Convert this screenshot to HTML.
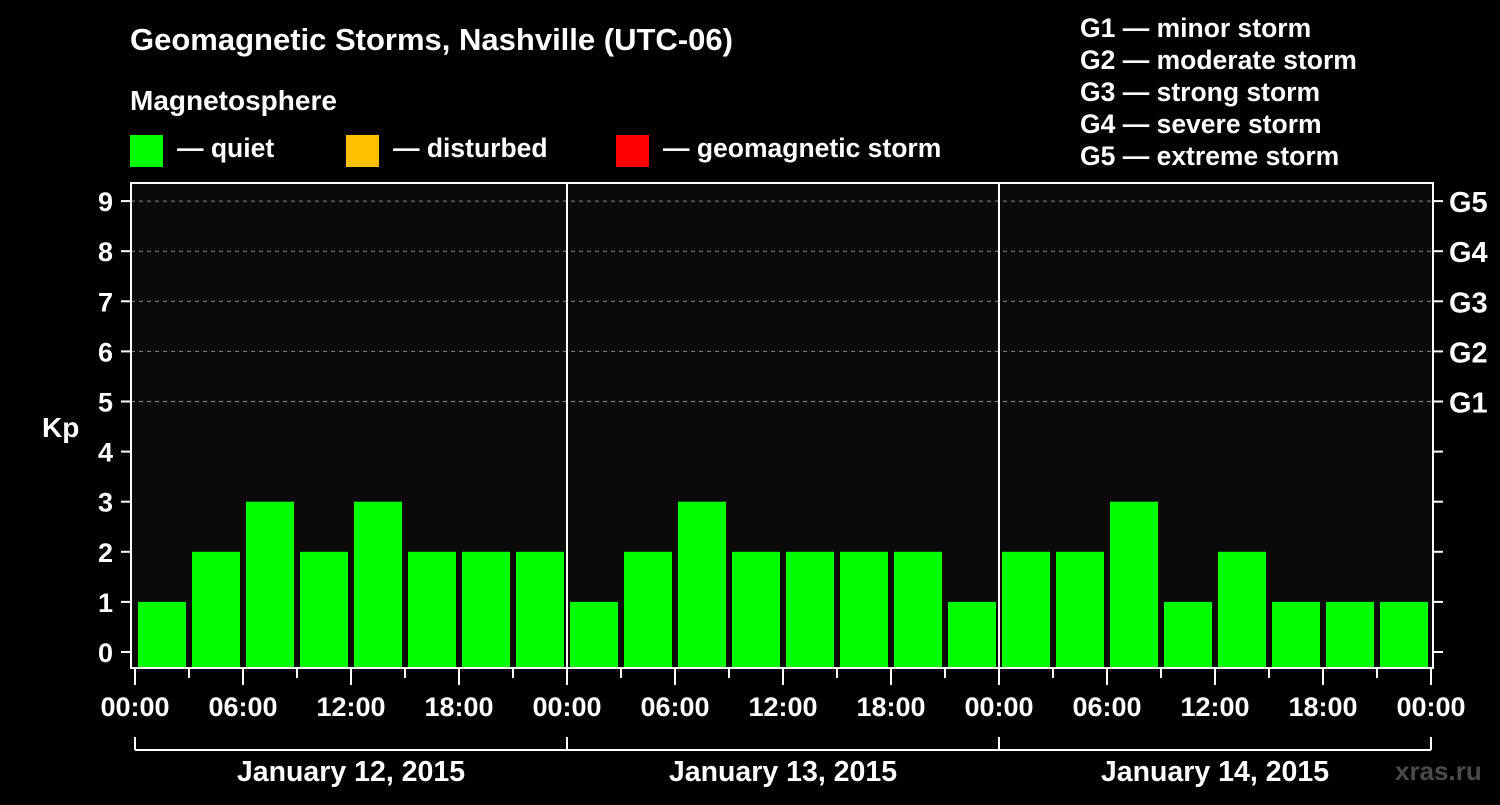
<!DOCTYPE html>
<html><head><meta charset="utf-8"><style>
body{margin:0;background:#000;width:1500px;height:800px;overflow:hidden}
svg text{font-family:"Liberation Sans",sans-serif;font-weight:bold;fill:#fff}
</style></head><body>
<svg id="c" width="1500" height="800">
<text x="130" y="50" font-size="31">Geomagnetic Storms, Nashville (UTC-06)</text>
<text x="130" y="110" font-size="28">Magnetosphere</text>
<g><rect x="130" y="135" width="33" height="32" fill="#00ff00"/><text x="177" y="157" font-size="26.5">— quiet</text></g>
<g><rect x="346" y="135" width="33" height="32" fill="#ffc000"/><text x="393" y="157" font-size="26.5">— disturbed</text></g>
<g><rect x="616" y="135" width="33" height="32" fill="#ff0000"/><text x="663" y="157" font-size="26.5">— geomagnetic storm</text></g>
<g font-size="26.5">
<text x="1080" y="37">G1 — minor storm</text>
<text x="1080" y="69">G2 — moderate storm</text>
<text x="1080" y="101">G3 — strong storm</text>
<text x="1080" y="133">G4 — severe storm</text>
<text x="1080" y="165">G5 — extreme storm</text>
</g>
<rect x="131" y="183" width="1302" height="485" fill="#0a0a0a"/>
<g id="grid"></g><g id="bars"></g>
<rect x="131" y="183" width="1302" height="485" fill="none" stroke="#fff" stroke-width="2"/>
<g id="axes"></g>
<text x="42" y="437" font-size="28">Kp</text>
<text x="1395" y="780" font-size="26" style="fill:#4a4a4a">xras.ru</text>
</svg>
<script>
const kpValues=[1,2,3,2,3,2,2,2, 1,2,3,2,2,2,2,1, 2,2,3,1,2,1,1,1];
const dayLabels=["January 12, 2015","January 13, 2015","January 14, 2015"];
const timeLabels=["00:00","06:00","12:00","18:00"];
const gLabels=["G1","G2","G3","G4","G5"];
const yTicks=[0,1,2,3,4,5,6,7,8,9];
const NS="http://www.w3.org/2000/svg";
const x=h=>135+h*18;
const y=v=>652-v*50.1;
function mk(tag,attrs,parent,txt){const e=document.createElementNS(NS,tag);for(const k in attrs)e.setAttribute(k,attrs[k]);if(txt!==undefined)e.textContent=txt;parent.appendChild(e);return e;}
const grid=document.getElementById('grid'),bars=document.getElementById('bars'),axes=document.getElementById('axes');
yTicks.forEach(v=>{
 if(v>=5){const l=mk('line',{x1:131,x2:1433,y1:y(v),y2:y(v),stroke:'#888','stroke-dasharray':'4,4','stroke-width':1},grid);
 
 }
 const t=mk('line',{x1:121,x2:131,y1:y(v),y2:y(v),stroke:'#fff','stroke-width':2},axes);
 
 
 const r=mk('line',{x1:1433,x2:1443,y1:y(v),y2:y(v),stroke:'#fff','stroke-width':2},axes);
 
 
 const tl=mk('text',{x:113,y:y(v)+10,'font-size':27,'text-anchor':'end'},axes,String(v));
 
 
});
gLabels.forEach((g,i)=>{const t=mk('text',{x:1449,y:y(5+i)+11,'font-size':29},axes,g);
 
 });
kpValues.forEach((v,i)=>{const c=v>=5?'#ff0000':(v>=4?'#ffc000':'#00ff00');
 const b=mk('rect',{x:x(i*3)+3,y:y(v),width:48,height:667-y(v),fill:c},bars);
 
 });
for(let d=1;d<3;d++){const l=mk('line',{x1:x(d*24),x2:x(d*24),y1:183,y2:668,stroke:'#fff','stroke-width':2},axes);
 
 }
for(let h=0;h<=72;h+=3){const major=h%6===0;
 const t=mk('line',{x1:x(h),x2:x(h),y1:668,y2:major?685:678,stroke:'#fff','stroke-width':2},axes);
 
 
 if(major){const l=mk('text',{x:x(h),y:716,'font-size':27,'text-anchor':'middle'},axes,timeLabels[(h/6)%4]);
 
 }}
const br=mk('line',{x1:x(0),x2:x(72),y1:750,y2:750,stroke:'#fff','stroke-width':2},axes);


for(let d=0;d<=3;d++){const l=mk('line',{x1:x(d*24),x2:x(d*24),y1:737,y2:750,stroke:'#fff','stroke-width':2},axes);
 
 }
dayLabels.forEach((s,d)=>{const t=mk('text',{x:x(d*24+12),y:781,'font-size':28.5,'text-anchor':'middle'},axes,s);
 
 });
</script>
</body></html>
